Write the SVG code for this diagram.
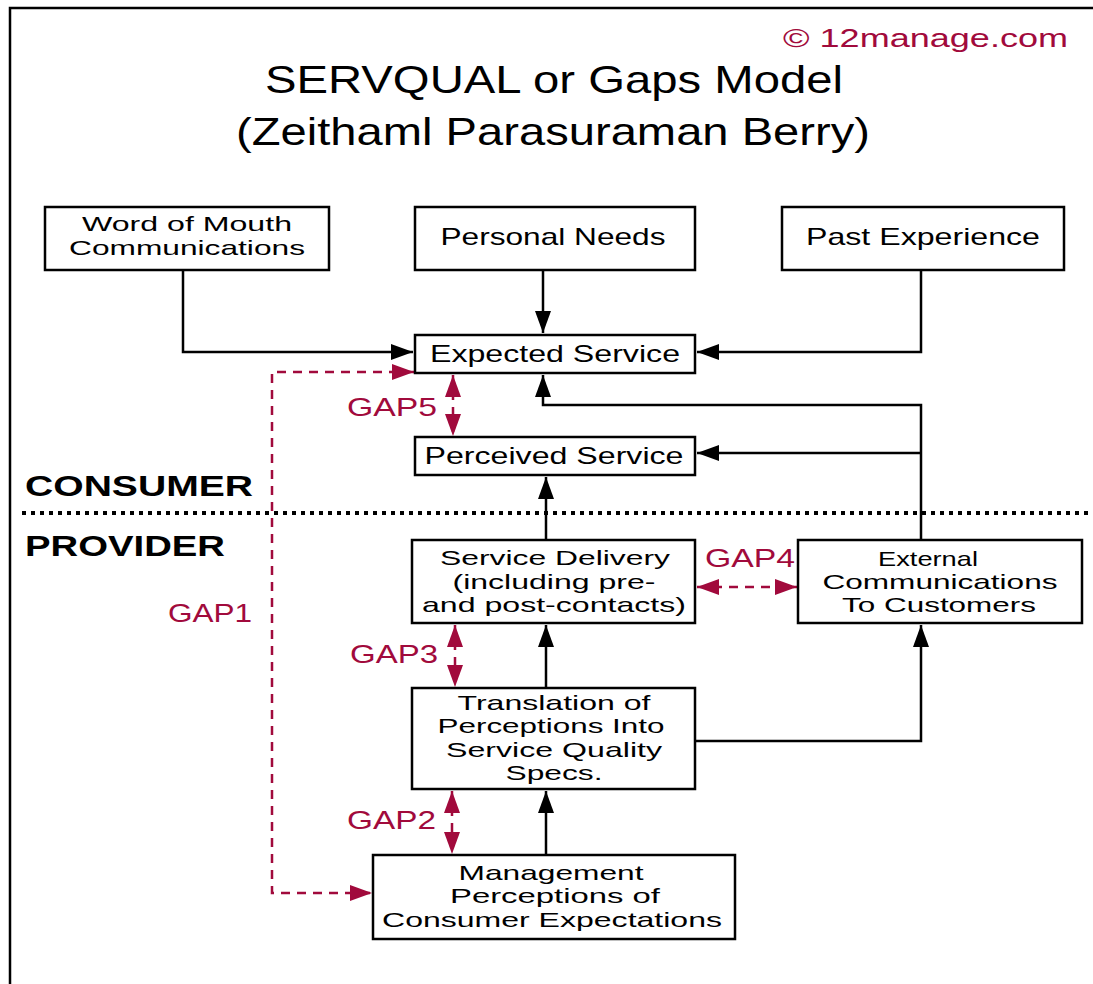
<svg xmlns="http://www.w3.org/2000/svg" width="1093" height="984" viewBox="0 0 1093 984">
<style>
.box{fill:#fff;stroke:#000;stroke-width:2.5}
.t{font-family:"Liberation Sans",Arial,sans-serif;font-size:24px;fill:#000;text-anchor:middle}
.m{font-family:"Liberation Sans",Arial,sans-serif;font-size:21px;fill:#000;text-anchor:middle}
.g{font-family:"Liberation Sans",Arial,sans-serif;font-size:25px;fill:#a10a3c}
.c{fill:none;stroke:#000;stroke-width:2.5}
.r{fill:none;stroke:#a10a3c;stroke-width:2.5;stroke-dasharray:9 7}
.h{font-family:"Liberation Sans",Arial,sans-serif;font-size:29px;font-weight:bold;fill:#000}
</style>
<defs>
<marker id="ab" markerUnits="userSpaceOnUse" markerWidth="24" markerHeight="18" refX="22" refY="8" orient="auto-start-reverse"><path d="M0,0 L22,8 L0,16 z" fill="#000"/></marker>
<marker id="ar" markerUnits="userSpaceOnUse" markerWidth="24" markerHeight="18" refX="22" refY="8" orient="auto-start-reverse"><path d="M0,0 L22,8 L0,16 z" fill="#a10a3c"/></marker>
</defs>
<rect width="1093" height="984" fill="#fff"/>
<path d="M10,984 V8 H1093" fill="none" stroke="#000" stroke-width="2.5"/>
<text x="1068" y="47" font-family="'Liberation Sans',Arial,sans-serif" font-size="25" fill="#a10a3c" text-anchor="end" textLength="285" lengthAdjust="spacingAndGlyphs">© 12manage.com</text>
<text x="554" y="93" font-family="'Liberation Sans',Arial,sans-serif" font-size="39" text-anchor="middle" textLength="578" lengthAdjust="spacingAndGlyphs">SERVQUAL or Gaps Model</text>
<text x="553" y="145" font-family="'Liberation Sans',Arial,sans-serif" font-size="39" text-anchor="middle" textLength="634" lengthAdjust="spacingAndGlyphs">(Zeithaml Parasuraman Berry)</text>

<text class="h" x="25" y="496" textLength="228" lengthAdjust="spacingAndGlyphs">CONSUMER</text>
<text class="h" x="25" y="556" textLength="200" lengthAdjust="spacingAndGlyphs">PROVIDER</text>
<line x1="22" y1="513" x2="1088" y2="513" stroke="#000" stroke-width="4" stroke-dasharray="4 5"/>

<g id="connectors">
<path class="c" d="M183,270 V352 H413" marker-end="url(#ab)"/>
<path class="c" d="M543,270 V333" marker-end="url(#ab)"/>
<path class="c" d="M921,270 V352 H697" marker-end="url(#ab)"/>
<path class="c" d="M921,540 V405 H543 V375" marker-end="url(#ab)"/>
<path class="c" d="M921,453 H697" marker-end="url(#ab)"/>
<path class="c" d="M546,540 V477" marker-end="url(#ab)"/>
<path class="c" d="M546,688 V625" marker-end="url(#ab)"/>
<path class="c" d="M695,741 H921 V625" marker-end="url(#ab)"/>
<path class="c" d="M546,855 V791" marker-end="url(#ab)"/>
<path class="r" d="M414,372 H272 V893 H372" marker-start="url(#ar)" marker-end="url(#ar)"/>
<path class="r" d="M453,375 V436" marker-start="url(#ar)" marker-end="url(#ar)"/>
<path class="r" d="M455,625 V687" marker-start="url(#ar)" marker-end="url(#ar)"/>
<path class="r" d="M452,791 V854" marker-start="url(#ar)" marker-end="url(#ar)"/>
<path class="r" d="M697,587 H797" marker-start="url(#ar)" marker-end="url(#ar)"/>
<text class="g" x="347" y="416" textLength="90" lengthAdjust="spacingAndGlyphs">GAP5</text>
<text class="g" x="168" y="622" textLength="84" lengthAdjust="spacingAndGlyphs">GAP1</text>
<text class="g" x="350" y="663" textLength="88" lengthAdjust="spacingAndGlyphs">GAP3</text>
<text class="g" x="347" y="829" textLength="89" lengthAdjust="spacingAndGlyphs">GAP2</text>
<text class="g" x="705" y="567" textLength="90" lengthAdjust="spacingAndGlyphs">GAP4</text>
</g>

<g id="word-of-mouth">
<rect class="box" x="45" y="207" width="284" height="63"/>
<text class="m" x="187" y="231" textLength="210" lengthAdjust="spacingAndGlyphs">Word of Mouth</text>
<text class="m" x="187" y="255" textLength="236" lengthAdjust="spacingAndGlyphs">Communications</text>
</g>
<g id="personal-needs">
<rect class="box" x="415" y="207" width="280" height="63"/>
<text class="t" x="553" y="245" textLength="225" lengthAdjust="spacingAndGlyphs">Personal Needs</text>
</g>
<g id="past-experience">
<rect class="box" x="782" y="207" width="282" height="63"/>
<text class="t" x="923" y="245" textLength="234" lengthAdjust="spacingAndGlyphs">Past Experience</text>
</g>
<g id="expected-service">
<rect class="box" x="415" y="335" width="280" height="38"/>
<text class="t" x="555" y="362" textLength="250" lengthAdjust="spacingAndGlyphs">Expected Service</text>
</g>
<g id="perceived-service">
<rect class="box" x="415" y="437" width="280" height="38"/>
<text class="t" x="554" y="464" textLength="259" lengthAdjust="spacingAndGlyphs">Perceived Service</text>
</g>
<g id="service-delivery">
<rect class="box" x="412" y="540" width="283" height="83"/>
<text class="m" x="555" y="565" textLength="230" lengthAdjust="spacingAndGlyphs">Service Delivery</text>
<text class="m" x="554" y="589" textLength="203" lengthAdjust="spacingAndGlyphs">(including pre-</text>
<text class="m" x="554" y="612" textLength="264" lengthAdjust="spacingAndGlyphs">and post-contacts)</text>
</g>
<g id="external-communications">
<rect class="box" x="798" y="540" width="284" height="83"/>
<text class="m" x="928" y="566" textLength="100" lengthAdjust="spacingAndGlyphs">External</text>
<text class="m" x="940" y="589" textLength="235" lengthAdjust="spacingAndGlyphs">Communications</text>
<text class="m" x="939" y="612" textLength="194" lengthAdjust="spacingAndGlyphs">To Customers</text>
</g>
<g id="translation">
<rect class="box" x="412" y="688" width="283" height="101"/>
<text class="m" x="554" y="710" textLength="193" lengthAdjust="spacingAndGlyphs">Translation of</text>
<text class="m" x="551" y="733" textLength="227" lengthAdjust="spacingAndGlyphs">Perceptions Into</text>
<text class="m" x="554" y="757" textLength="216" lengthAdjust="spacingAndGlyphs">Service Quality</text>
<text class="m" x="554" y="780" textLength="97" lengthAdjust="spacingAndGlyphs">Specs.</text>
</g>
<g id="management">
<rect class="box" x="373" y="855" width="362" height="84"/>
<text class="m" x="551" y="880" textLength="185" lengthAdjust="spacingAndGlyphs">Management</text>
<text class="m" x="555" y="903" textLength="210" lengthAdjust="spacingAndGlyphs">Perceptions of</text>
<text class="m" x="552" y="927" textLength="340" lengthAdjust="spacingAndGlyphs">Consumer Expectations</text>
</g>
</svg>
